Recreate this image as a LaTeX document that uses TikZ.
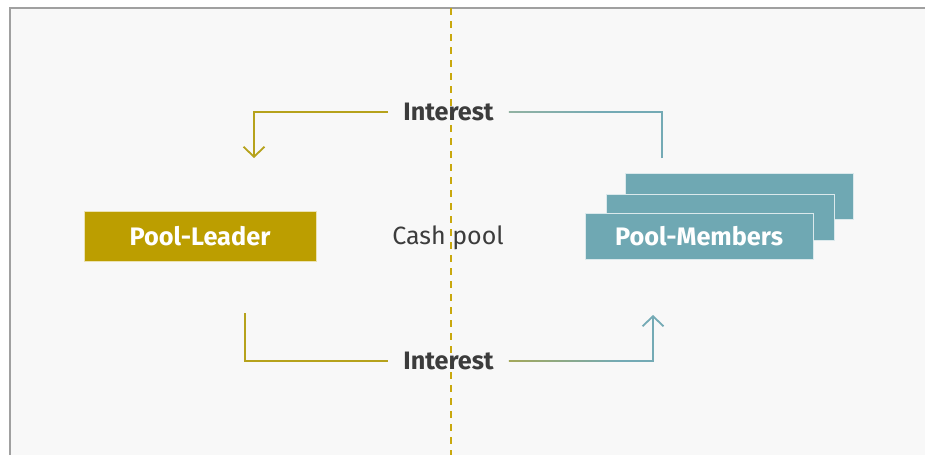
\documentclass[tikz,border=0pt]{standalone}
\usepackage{fontspec}
\setmainfont{Fira Sans}
\usetikzlibrary{arrows.meta,calc}

\definecolor{panelbg}{HTML}{F8F8F8}
\definecolor{panelrule}{HTML}{A0A0A0}
\definecolor{leaderfill}{HTML}{BC9E00}
\definecolor{memberfill}{HTML}{6FA8B3}
\definecolor{oliveline}{HTML}{B6A21C}
\definecolor{tealline}{HTML}{74AAB5}
\definecolor{divcol}{HTML}{C9A80E}
\definecolor{txtdark}{HTML}{3C3C3C}
\definecolor{mixtop}{HTML}{92B2A2}
\definecolor{mixbot}{HTML}{A4A85A}

\tikzset{
  box/.style={minimum width=228pt, minimum height=46pt, inner sep=0pt,
    fill=memberfill, draw=white!75!memberfill, line width=1pt},
  leaderbox/.style={minimum width=232pt, minimum height=50pt, inner sep=0pt,
    fill=leaderfill, draw=white!70!leaderfill, line width=0.8pt,
    text=white, font=\fontsize{25.3}{29}\selectfont\bfseries},
  membertext/.style={text=white, font=\fontsize{25.3}{29}\selectfont\bfseries},
  flowlabel/.style={text=txtdark, font=\fontsize{25.2}{29}\selectfont\bfseries,
    inner xsep=15pt, inner ysep=2pt},
  plainlabel/.style={text=txtdark, font=\fontsize{25}{29}\selectfont},
  flow/.style={line width=1.8pt},
  barb/.style={-{Straight Barb[length=10pt, width=21pt]}},
  divider/.style={divcol, line width=2pt, dash pattern=on 7pt off 6pt},
}

\begin{document}
\begin{tikzpicture}[x=1pt, y=-1pt]
  \useasboundingbox (0,0) rectangle (925,455);
  \fill[white] (0,0) rectangle (925,455);
  % grey panel with rule on its left and top edges
  \fill[panelbg] (10,8) rectangle (925,455);
  \draw[panelrule, line width=1.4pt] (10,455) -- (10,8) -- (925,8);

  % dashed divider through the middle
  \coordinate (divtop) at (451,8);
  \coordinate (divbot) at (451,455);
  \draw[divider] (divtop) -- (divbot);

  % parties
  \node[leaderbox] (leader) at (200,236) {Pool-Leader};
  \node[box] (member3) at (739,196) {};
  \node[box] (member2) at (720,217) {};
  \node[box] (member1) at (699,236) {};
  \node[membertext] (membername) at (member1) {Pool-Members};
  \node[plainlabel] (cash) at (448,238) {Cash pool};

  % interest labels
  \node[flowlabel] (itop) at (448.5,112) {Interest};
  \node[flowlabel] (ibot) at (448.5,361) {Interest};

  % end points of the flows
  \coordinate (leaderin) at (254,158);
  \coordinate (memberout) at (662,158);
  \coordinate (leaderout) at (245,313);
  \coordinate (memberin) at (653,315);

  % upper flow: members -> leader
  \draw[flow, tealline] (memberout) |- (itop.east);
  \shade[left color=mixtop, right color=tealline]
    ($(itop.east)+(0,-0.9)$) rectangle ($(itop.east)+(95,0.9)$);
  \draw[flow, oliveline, barb] (itop.west) -| (leaderin);

  % lower flow: leader -> members
  \draw[flow, oliveline] (leaderout) |- (ibot.west);
  \draw[flow, tealline, barb] (ibot.east) -| (memberin);
  \shade[left color=mixbot, right color=tealline]
    ($(ibot.east)+(0,-0.9)$) rectangle ($(ibot.east)+(110,0.9)$);
\end{tikzpicture}
\end{document}
